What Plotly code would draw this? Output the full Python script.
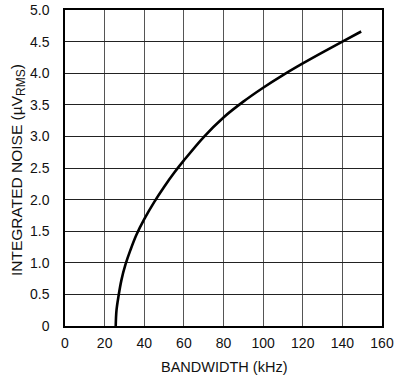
import plotly.graph_objects as go

bandwidth_khz = [25.6, 26.0, 27.0, 28.5, 30.5, 33.0, 36.0, 40.0, 45.0, 50.0, 55.0, 60.0,
                 70.0, 80.0, 90.0, 100.0, 110.0, 120.0, 130.0, 140.0, 149.5]
noise_uv = [0.0, 0.25, 0.47, 0.73, 0.97, 1.2, 1.44, 1.69, 1.96, 2.2, 2.42, 2.62,
            2.99, 3.3, 3.55, 3.77, 3.97, 4.155, 4.33, 4.5, 4.66]

x_ticks = [0, 20, 40, 60, 80, 100, 120, 140, 160]
x_tick_labels = ["0", "20", "40", "60", "80", "100", "120", "140", "160"]
y_ticks = [0, 0.5, 1.0, 1.5, 2.0, 2.5, 3.0, 3.5, 4.0, 4.5, 5.0]
y_tick_labels = ["0", "0.5", "1.0", "1.5", "2.0", "2.5", "3.0", "3.5", "4.0", "4.5", "5.0"]

font_family = "Liberation Sans, Arial, sans-serif"

fig = go.Figure()
fig.add_trace(go.Scatter(
    x=bandwidth_khz, y=noise_uv, mode="lines",
    line=dict(color="black", width=2.6, shape="spline", smoothing=1.0),
    hoverinfo="skip", showlegend=False,
))

fig.update_layout(
    width=401, height=378,
    margin=dict(l=65, r=19, t=10, b=52, autoexpand=False),
    paper_bgcolor="white", plot_bgcolor="white",
    font=dict(family=font_family, size=14, color="#111"),
    xaxis=dict(
        range=[0, 160], tickmode="array", tickvals=x_ticks, ticktext=x_tick_labels,
        showgrid=True, gridcolor="#555", gridwidth=1.3,
        showline=True, linecolor="black", linewidth=1.5, mirror=True,
        zeroline=False, ticks="", ticklabelstandoff=3, automargin=False,
    ),
    yaxis=dict(
        range=[0, 5.0], tickmode="array", tickvals=y_ticks, ticktext=y_tick_labels,
        showgrid=True, gridcolor="#222", gridwidth=1.3,
        showline=True, linecolor="black", linewidth=1.5, mirror=True,
        zeroline=False, ticks="", ticklabelstandoff=11, automargin=False,
    ),
    annotations=[
        dict(text="BANDWIDTH (kHz)", xref="paper", yref="paper", x=0.5, y=0,
             xanchor="center", yanchor="middle", yshift=-41, showarrow=False,
             font=dict(size=14.5)),
        dict(text="INTEGRATED NOISE (µV<sub><span style='font-size:12px'>RMS</span></sub>)",
             xref="paper", yref="paper",
             x=0, y=0.5, xanchor="center", yanchor="middle", xshift=-47, yshift=-2,
             textangle=-90, showarrow=False, font=dict(size=15.5)),
    ],
)

fig.write_html(
    "out.html",
    config={"displayModeBar": False},
    post_script="document.body.style.margin='0';document.body.style.padding='0';"
                "document.documentElement.style.overflow='hidden';",
)
